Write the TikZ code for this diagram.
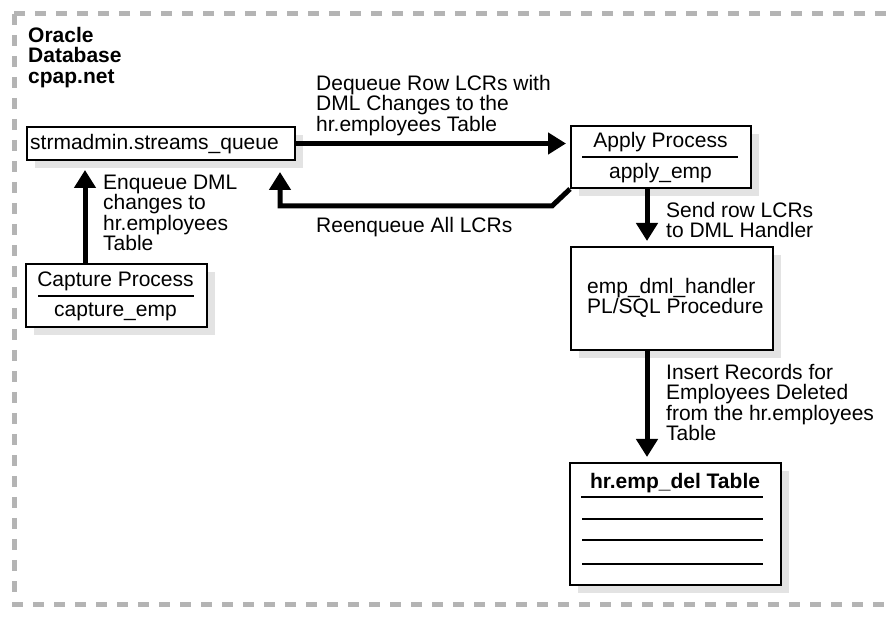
\documentclass[tikz,border=0pt]{standalone}
\usepackage{fontspec}
\setmainfont{Liberation Sans}
\usetikzlibrary{arrows.meta,shadows}
\definecolor{dashgray}{HTML}{B4B4B4}
\definecolor{shadowgray}{HTML}{E3E3E3}
\begin{document}
\begin{tikzpicture}[x=1pt,y=-1pt,
  box/.style={draw, line width=2pt, fill=white, inner sep=0pt,
    drop shadow={shadow xshift=8pt, shadow yshift=-8pt, fill=shadowgray, opacity=1}},
  txt/.style={inner sep=0pt, font=\fontsize{21}{20.3}\selectfont},
  lbl/.style={txt, align=left, anchor=north west},
  flow/.style={line width=5pt, line join=miter, -{Triangle[length=18pt,width=21pt]}},
  divider/.style={line width=2.5pt},
  rowline/.style={line width=1.3pt},
  frame/.style={draw=dashgray, line width=5pt, dash pattern=on 11pt off 10pt}]
\useasboundingbox (0,0) rectangle (887,617);
\path[frame] (14,14) rectangle (910,604);

% title
\node[lbl, font=\fontsize{21}{20.3}\selectfont\bfseries] (title) at (28,27) {Oracle\\Database\\cpap.net};

% boxes
\node[box, minimum width=268pt, minimum height=33pt] (strm) at (161,143.5) {};
\node[txt, anchor=base west] (strmt) at (30,150) {strmadmin.streams\_queue};

\node[box, minimum width=180pt, minimum height=62pt] (apply) at (661,157) {};
\node[txt, anchor=base] (applyt) at (660.5,148) {Apply Process};
\node[txt, anchor=base] (applyn) at (660.5,179) {apply\_emp};
\draw[divider] (582,157) -- (738,157);

\node[box, minimum width=181pt, minimum height=63pt] (capture) at (116.5,295.5) {};
\node[txt, anchor=base] (capt) at (115.5,287) {Capture Process};
\node[txt, anchor=base] (capn) at (115.5,317) {capture\_emp};
\draw[divider] (38,296) -- (194,296);

\node[box, minimum width=202pt, minimum height=103pt] (handler) at (672,298.5) {};
\node[lbl, anchor=base west] (handlert) at (587,314) {emp\_dml\_handler\\PL/SQL Procedure};

\node[box, minimum width=211pt, minimum height=122pt] (table) at (675.5,524) {};
\node[txt, anchor=base, font=\fontsize{21}{20.3}\selectfont\bfseries] (tablet) at (675,489) {hr.emp\_del Table};
\draw[divider] (581,497) -- (763,497);
\draw[rowline] (582,519) -- (763,519);
\draw[rowline] (582,540) -- (763,540);
\draw[rowline] (582,564) -- (763,564);

% connectors
\draw[flow, shorten >=4pt] (strm.east) -- (strm.east -| apply.west);
\node[lbl] (deq) at (316,75) {Dequeue Row LCRs with\\DML Changes to the\\hr.employees Table};

\coordinate (r1) at (552,206);
\coordinate (r2) at (280,206);
\coordinate (rend) at (280,172);
\draw[flow] (apply.south west) -- (r1) -- (r2) -- (rend);
\node[lbl] (reenq) at (316,217) {Reenqueue All LCRs};

\coordinate (cend) at (85,170);
\draw[flow] (capture.north -| cend) -- (cend);
\node[lbl] (enq) at (103,175) {Enqueue DML\\changes to\\hr.employees\\Table};

\draw[flow, shorten >=5pt] (647,0 |- apply.south) -- (647,0 |- handler.north);
\node[lbl] (send) at (666,202) {Send row LCRs\\to DML Handler};

\draw[flow, shorten >=5pt] (647,0 |- handler.south) -- (647,0 |- table.north);
\node[lbl] (ins) at (666,364) {Insert Records for\\Employees Deleted\\from the hr.employees\\Table};
\end{tikzpicture}
\end{document}
